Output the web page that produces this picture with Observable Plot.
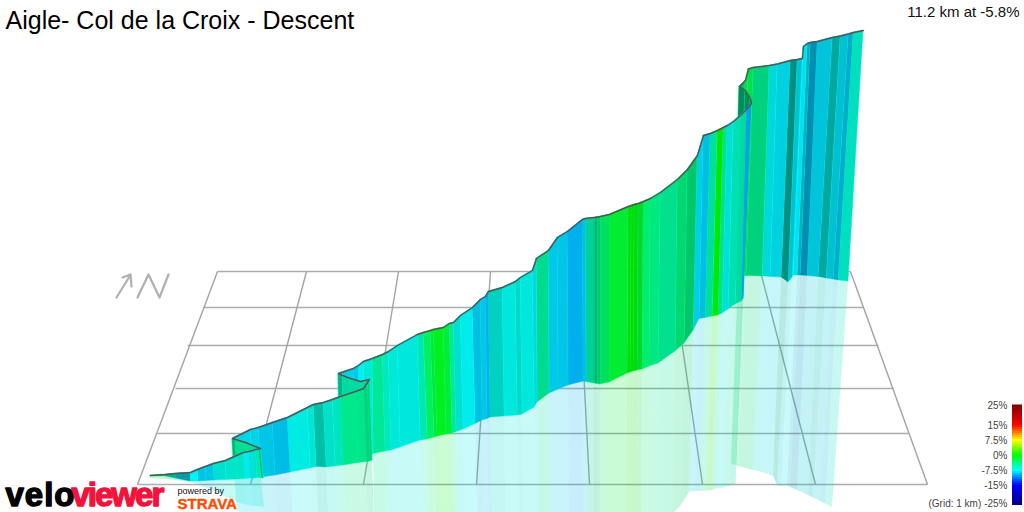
<!DOCTYPE html>
<html><head><meta charset="utf-8">
<style>html,body{margin:0;padding:0;background:#fff;overflow:hidden}svg{display:block}</style>
<script src="https://cdn.jsdelivr.net/npm/d3@7"></script>
<script src="https://cdn.jsdelivr.net/npm/@observablehq/plot@0.6"></script>
</head><body><div id="chart"></div>
<script>
const N = null;
// Ribbon stations along the road. Lines: first run, fold, second run, fold, long run, fold, last run.
const topX = [150,165,175,190,197,205,213,225,236,243,248,252,255,258,
  260,245,235,
  232,250,258,272,287,307,313,323,332,340,355,363,367,369,
  360,350,342,
  338,353,358,363,372,382,388,397,417,423,430,433,443,449,453,460,472,480,485,488,502,515,520,532,536,548,557,567,582,585,594,597,600,609,628,631,634,638,643,650,660,677,687,697,703,710,717,723,727,733,740,746,751,
  750,745,
  739,745,748,753,769,777,790,797,802,803,807,810,817,832,840,848,853,863];
const topY = [475,474,473,472,469,466,463,460,455,452,451,450,449,448.5,
  448,442,439,
  438,429,427,422,417,407,404,402,399,396,391,388,382,379,
  381,378,375,
  373,368,365,361,358,354,351,345,334,332,330,329,327,323,322,315,307,299,296,291,287,281,277,270,258,250,237,231,219,218,217,216.5,216,214,206,205,204,203,201,198,192,179,169,155,135,133,130,127,125,121,115,109,103,
  98,90,
  86,80,68.5,67,65,63.5,60,59,58,46,43,42,41,37,35.5,33.5,32,30];
const baseX = [150,165,175,190,198,206,214,226,237,245,250,254,257,261,
  263,247,237,
  234,252,261,275,290,310,316,326,335,343,358,366,370,372,
  362,352,344,
  340,355,360,365,373,385,391,400,420,427,434,437,446,452,456,463,475,482,487,490,504,517,522,534,537,549,558,568,583,586,594,597,600,609,627,630,633,637,642,649,658,675,684,693,699,705,712,718,722,728,735,741,743,
  743,739,
  733,738,741,746,762,770,781,788,792,793,797,800,807,818,826,833,838,848];
const baseY = [476,476,478,481,481,480.5,480,479.5,479,478.5,478,478,477.5,477.5,
  478,475,472,
  474,476,477,475,472,468,466.5,467,466,465,462.5,461.5,461,460,
  456,450,445,
  462,458,457,456,453.5,451,450,447,440,439,437,436,434,433,431.5,429,423.5,420,418.5,417,416,415,414,407,402,393,389,385,381,381.5,383,383.5,384,382,373,372,371,370,369,366,363,351,343,330,318.5,317.5,316,315,313,309,304,301,298,
  295,285,
  276,276,275.5,275.5,276,276.5,277,282,277,275,275,275,275.5,276.5,278,279,280,281];
const mirrorX = [150,165,175,191,199,207,216,228,240,248,253,257,260,264,
  N,N,N,
  237,255,265,278,294,313,319,329,338,346,360,368,372,375,
  N,N,N,
  N,N,N,N,375,387,393,402,423,430,437,440,449,455,459,466,478,484,489,492,506,519,524,535,538,550,559,569,584,587,594,597,600,609,626,629,632,636,641,647,656,672,680,689,694,700,706,712,716,722,729,735,735.5,
  N,N,
  N,731,734,738,753,762,773,777,781,783,787,790,797,808,813,820,825,832];
const mirrorY = [478,479,480,482,485,488,492,498,503,505,506,506,506,507,
  N,N,N,
  510,522,525,528,527,528,529,532,533,534,534,535,540,541,
  N,N,N,
  N,N,N,N,548,548,549,549,546,546,544,543,541,543,541,543,540,541,541,543,545,549,551,544,546,536,541,539,543,545,549,550,552,550,540,539,538,537,537,534,533,514,506,492,491,491,490.5,490,488.5,488,486,484,483,
  N,N,
  N,464,464.5,466,470,472,476,485,486,486,485.5,487,490,495,497.5,501,503.5,507];
// Gradient (%) and surface darkening of the stripe that starts at each station.
const grade = [-3,-5,-8,-7.5,-8.5,-8.3,-7,-6.6,-6.6,-7.5,-7.2,-7,-6,-4.5,
  -5,-5,-4.5,
  -8,-8,-8.5,-8.8,-7.2,-7,-6.5,-6.8,-6.2,-4.5,-4.6,-4.6,-4.6,-5.5,
  -5.5,-5.5,-5.5,
  -8.2,-8.5,-7.5,-7,-4.9,-6.2,-7,-7.2,-5.7,-3,-2,-1,-2,-5.2,-7,-7.5,-8.6,-8.5,-9.3,-6.9,-7.2,-6.9,-7.2,-7.7,-5,-8.5,-8.6,-9.4,-8.5,-5.5,-4.3,-4.4,-3.2,-1.6,-0.8,0,-0.8,-1.7,-3.5,-4.2,-4.8,-3.9,-4,-8.2,-8.6,-5.2,-0.3,-5.2,-7.2,-6,-5.5,-9.8,-4.7,
  -4.7,-4.7,
  -4.4,-2.5,-2.5,-4.6,-7.5,-8,-6.7,-8,-7.5,-7.9,-8.1,-8.9,-8.2,-7.1,-8.1,-8.4,-6.4,-6.4];
const shade = [.15,.3,.35,.05,.1,.12,.12,.1,.1,.08,.12,.12,.1,.25,
  .12,.12,.3,
  .1,.1,.1,.1,.08,.1,.25,.12,.1,.09,.1,.18,.18,.15,
  .15,.15,.3,
  .1,.09,.06,.09,.09,.09,.09,.09,.09,.06,.09,.06,.07,.09,.12,.08,.12,.09,.09,.18,.09,.15,.09,.12,.14,.09,.09,.07,.12,.18,.3,.22,.12,.07,.15,.12,.15,.15,.07,.09,.12,.15,.22,.1,.12,.12,.09,.12,.12,.12,.15,.09,.45,
  .45,.45,
  .25,.12,.12,.18,.15,.12,.44,.18,.1,.06,.25,.31,.15,.34,.18,.22,.12,.12];

// Ground grid
const gridAcrossY = [271,307,345,388,433,484];
const gridAcrossLeft = [217,203,187,175,157,137];
const gridAcrossRight = [850,863,878,893,908,927];
const gridAlongFar = [217,306,398,490,578,671,760,850];
const gridAlongNear = [137,250,363,476,589,702,815,927];

// North marker
const arrowX = [116,129], arrowY = [297,276];
const headX = [122,130,131], headY = [277,274,286];
const northX = [137,148,159,168], northY = [297,274,297,274];

// Colour key
const keyStops = [-25,-15,-7.5,0,7.5,15,25];
const keyColors = ["#000080","#0000ff","#00ffff","#00ff00","#ffff00","#ff0000","#800000"];
const keyTicks = [25,15,7.5,0,-7.5,-15,-25];
const keyLabels = ["25%","15%","7.5%","0%","-7.5%","-15%","-25%"];
const keySteps = d3.range(-25,25,1);
const keyY = d3.scaleLinear([-25,25],[505,405]);

const stations = topX.map((_, i) => i);
const stripeIds = d3.range(topX.length - 2, -1, -1);

const marks = [];
// grid
marks.push(Plot.link(gridAcrossY, {x1:(_,i)=>gridAcrossLeft[i], x2:(_,i)=>gridAcrossRight[i], y1:d=>d, y2:d=>d, stroke:"#adadad", strokeWidth:1.5}));
marks.push(Plot.link(gridAlongFar, {x1:d=>d, x2:(_,i)=>gridAlongNear[i], y1:()=>gridAcrossY[0], y2:()=>gridAcrossY[5], stroke:"#a3a3a3", strokeWidth:1.4}));
// north marker
const marker = (xs, ys) => Plot.line(xs.map((x,i)=>({x,y:ys[i]})), {x:"x", y:"y", stroke:"#b0b0b0", strokeWidth:2.2});
marks.push(marker(arrowX,arrowY), marker(headX,headY), marker(northX,northY));

// mirror image on the ground
for (const i of stripeIds) {
  if (mirrorY[i]==null || mirrorY[i+1]==null) continue;
  const pair = [i,i+1];
  const opts = {x1:j=>baseX[j], y1:j=>baseY[j], x2:j=>mirrorX[j], y2:j=>mirrorY[j]};
  marks.push(Plot.area(pair, {...opts, fill:()=>grade[i], fillOpacity:.2}));
  marks.push(Plot.area(pair, {...opts, fill:"#000", fillOpacity:shade[i]*.2}));
}
// ribbon, far end first so nearer folds cover it
for (const i of stripeIds) {
  const pair = [i,i+1];
  const opts = {x1:j=>topX[j], y1:j=>topY[j], x2:j=>baseX[j], y2:j=>baseY[j]};
  marks.push(Plot.area(pair, {...opts, fill:()=>grade[i], stroke:()=>grade[i], strokeWidth:.5}));
  marks.push(Plot.area(pair, {...opts, fill:"#000", fillOpacity:shade[i]}));
}
marks.push(Plot.line(stations, {x:j=>topX[j], y:j=>topY[j], stroke:"#555", strokeWidth:1.4, curve:"linear"}));

// colour key
marks.push(Plot.rect(keySteps, {x1:()=>1012, x2:()=>1022, y1:g=>keyY(g), y2:g=>keyY(g+1)-.5, fill:g=>g+.5}));
marks.push(Plot.text(keyTicks, {x:()=>1007, y:g=>keyY(g)+(g===-25?-2:0), text:(_,i)=>keyLabels[i], textAnchor:"end", fontSize:10, fill:"#444", fontFamily:"Liberation Sans"}));
marks.push(Plot.text(["(Grid: 1 km)"], {x:()=>928, y:()=>503, text:d=>d, textAnchor:"start", fontSize:10, fill:"#444", fontFamily:"Liberation Sans"}));

// titles
marks.push(Plot.text(["Aigle- Col de la Croix - Descent"], {x:()=>5, y:()=>20, text:d=>d, textAnchor:"start", fontSize:25, fill:"#000", fontFamily:"Liberation Sans"}));
marks.push(Plot.text(["11.2 km at -5.8%"], {x:()=>1019, y:()=>12, text:d=>d, textAnchor:"end", fontSize:15, fill:"#111", fontFamily:"Liberation Sans"}));

// logos
marks.push(Plot.text(["velo"], {x:()=>5, y:()=>495, text:d=>d, textAnchor:"start", fontSize:33, fontWeight:"bold", fill:"#000", stroke:"#000", strokeWidth:1.4, fontFamily:"Liberation Sans"}));
marks.push(Plot.text(["viewer"], {x:()=>71, y:()=>495, text:d=>d, textAnchor:"start", fontSize:33, fontWeight:"bold", fill:"#f2123c", stroke:"#f2123c", strokeWidth:1.4, fontFamily:"Liberation Sans"}));
marks.push(Plot.text(["powered by"], {x:()=>177, y:()=>491, text:d=>d, textAnchor:"start", fontSize:9, fill:"#111", fontFamily:"Liberation Sans"}));
marks.push(Plot.text(["STRAVA"], {x:()=>177, y:()=>504, text:d=>d, textAnchor:"start", fontSize:15, fontWeight:"bold", fill:"#fc4c02", stroke:"#fc4c02", strokeWidth:.4, fontFamily:"Liberation Sans"}));

const chart = Plot.plot({
  width:1024, height:512, margin:0,
  x:{domain:[0,1024], range:[0,1024], axis:null},
  y:{domain:[0,512], range:[0,512], axis:null},
  color:{type:"linear", domain:keyStops, range:keyColors, legend:false},
  style:{background:"transparent"},
  marks
});
d3.select(chart).selectAll("text").filter(function(){return this.textContent==="viewer";}).attr("letter-spacing",-2);
d3.select(chart).selectAll("text").filter(function(){return this.textContent==="velo";}).attr("letter-spacing",1);
document.getElementById("chart").append(chart);
</script></body></html>
